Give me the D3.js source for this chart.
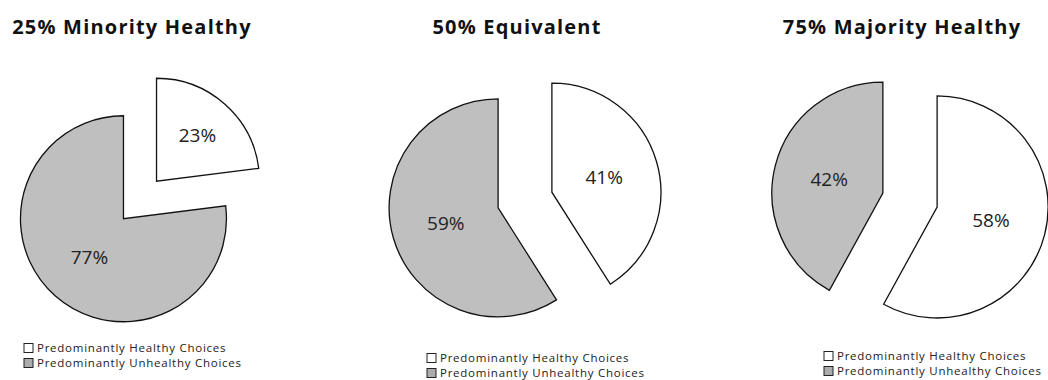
<html>
<head>
<meta charset="utf-8">
<style>
  body { margin: 0; background: #fff; }
</style>
</head>
<body>
<script src="https://d3js.org/d3.v7.min.js"></script>
<script>

// chart data
var chartTitles = ["25% Minority Healthy", "50% Equivalent", "75% Majority Healthy"];
var healthyPct = [23, 41, 58];
var unhealthyPct = [77, 59, 42];
var seriesNames = ["Predominantly Healthy Choices", "Predominantly Unhealthy Choices"];
var seriesColors = ["#ffffff", "#bfbfbf"];

// layout of each small pie (radius, explode distance, legend placement)
var layout = [
  {r: 103, explode: 25, legendDx: -116, legendY: 348, rowGap: 15},
  {r: 109, explode: 28, legendDx: -98, legendY: 358, rowGap: 15},
  {r: 111, explode: 28, legendDx: -86, legendY: 356, rowGap: 15}
];

var w = 1048, h = 380;

var svg = d3.select('body').append('svg')
    .attr('width', w)
    .attr('height', h)
    .style('font-family', '"Open Sans", sans-serif');

var x = d3.scalePoint()
    .domain(chartTitles)
    .range([140, 910]);

var cy = 200;

var pie = d3.pie().sort(null).value(function(d){ return d; });

// label distance from slice tip, as share of radius
var labelPos = function(d){ return d.value < 30 ? 0.6 : 0.5; };

chartTitles.forEach(function(title, i){
  var cx = x(title);
  var lay = layout[i];
  var g = svg.append('g');

  g.append('text')
    .attr('x', cx - 8)
    .attr('y', 34)
    .attr('text-anchor', 'middle')
    .style('font-weight', 'bold')
    .style('font-size', '20px')
    .style('letter-spacing', '1.2px')
    .style('fill', '#111')
    .text(title);

  var arcs = pie([healthyPct[i], unhealthyPct[i]]);
  var arc = d3.arc().innerRadius(0).outerRadius(lay.r);

  // exploded slices, each pushed out along its middle angle
  var slice = g.selectAll('g.slice')
    .data(arcs)
    .enter()
    .append('g')
    .attr('class', 'slice')
    .attr('transform', function(d){
      var mid = (d.startAngle + d.endAngle) / 2;
      var dx = cx + lay.explode * Math.sin(mid);
      var dy = cy - lay.explode * Math.cos(mid);
      return 'translate(' + dx + ',' + dy + ')';
    });

  slice.append('path')
    .attr('d', arc)
    .style('fill', function(d, j){ return seriesColors[j]; })
    .style('stroke', '#111')
    .style('stroke-width', 1.3)
    .style('stroke-linejoin', 'miter');

  slice.append('text')
    .attr('x', function(d){
      var mid = (d.startAngle + d.endAngle) / 2;
      return labelPos(d) * lay.r * Math.sin(mid);
    })
    .attr('y', function(d){
      var mid = (d.startAngle + d.endAngle) / 2;
      return -labelPos(d) * lay.r * Math.cos(mid);
    })
    .attr('dy', '0.35em')
    .attr('text-anchor', 'middle')
    .style('font-size', '19px')
    .style('fill', '#222')
    .text(function(d){ return d.value + '%'; });

  // legend
  var leg = g.selectAll('g.legend')
    .data(seriesNames)
    .enter()
    .append('g')
    .attr('class', 'legend')
    .attr('transform', function(d, j){
      return 'translate(' + (cx + lay.legendDx) + ',' + (lay.legendY + j * lay.rowGap) + ')';
    });

  leg.append('rect')
    .attr('x', 0)
    .attr('y', -4.5)
    .attr('width', 9)
    .attr('height', 9)
    .style('fill', function(d, j){ return seriesColors[j] == '#ffffff' ? '#fff' : '#acacac'; })
    .style('stroke', '#222')
    .style('stroke-width', 1);

  leg.append('text')
    .attr('x', 13)
    .attr('y', 0)
    .attr('dy', '0.35em')
    .style('font-size', '11.5px')
    .style('letter-spacing', '0.75px')
    .style('fill', '#222')
    .text(function(d){ return d; });
});

  </script>
</body>
</html>
